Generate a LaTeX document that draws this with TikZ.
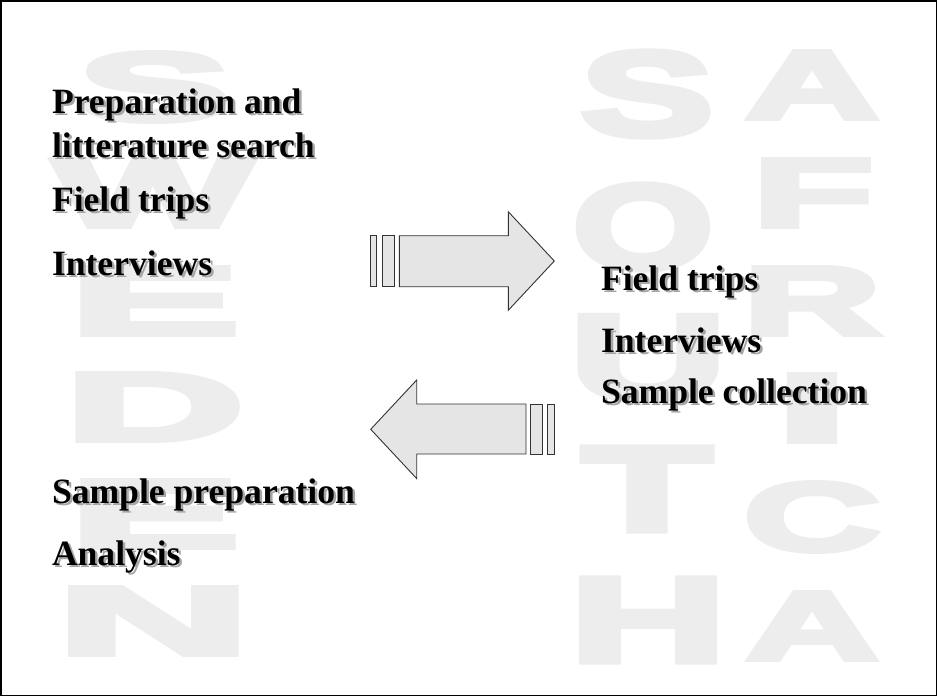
\documentclass[tikz,border=0pt]{standalone}
\usepackage{fontspec}
\setmainfont{Liberation Serif}
\newfontfamily\bigfont{Liberation Sans}[UprightFont=* Bold, FakeBold=5]
\begin{document}
\begin{tikzpicture}[x=1pt,y=-1pt]
\tikzset{
 bigl/.style={inner sep=0pt, outer sep=0pt, text=black!7, anchor=center},
 lbl/.style={inner sep=0pt, outer sep=0pt, anchor=base west, font=\bfseries\fontsize{35.6}{40}\selectfont},
 shadowlbl/.style={lbl, text=black!35},
 arrowshape/.style={fill=black!10, draw=black!80, line width=0.9pt, line join=miter},
}
\newcommand\bigletter[6]{\node[bigl] (#1) at (#2,#3) {\resizebox{#4pt}{#5pt}{\bigfont #6}};}
\newcommand\shlabel[4]{\node[shadowlbl] (#1s) at (#2+2.5,#3+2.5) {#4}; \node[lbl] (#1) at (#2,#3) {#4};}
\useasboundingbox (0,0) rectangle (937,696);
\fill[white] (0,0) rectangle (937,696);
% SWEDEN
\bigletter{sw1}{154}{87}{152}{68}{S}
\bigletter{sw2}{153}{193}{199}{67}{W}
\bigletter{sw3}{154.5}{301}{169}{67}{E}
\bigletter{sw4}{154.5}{407}{179}{67}{D}
\bigletter{sw5}{154.5}{514}{169}{67}{E}
\bigletter{sw6}{153.5}{621}{193}{67}{N}
% SOUTH
\bigletter{so1}{647}{94}{132}{84}{S}
\bigletter{so2}{643}{227}{140}{84}{O}
\bigletter{so3}{648}{358}{156}{83}{U}
\bigletter{so4}{647}{489}{129}{83}{T}
\bigletter{so5}{648}{620}{156}{83}{H}
% AFRICA
\bigletter{af1}{812}{85}{133}{67}{A}
\bigletter{af2}{813}{193}{120}{67}{F}
\bigletter{af3}{812}{301}{137}{67}{R}
\bigletter{af4}{812}{408}{72}{67}{I}
\bigletter{af5}{812}{517}{136}{68}{C}
\bigletter{af6}{812}{626}{132}{67}{A}
% right arrow
\draw[arrowshape] (370.7,235.7) rectangle (376.7,286.7);
\draw[arrowshape] (382.3,235.7) rectangle (394.3,286.7);
\draw[arrowshape] (399.3,235.7) -- (508.3,235.7) -- (508.3,211.7) -- (554.3,261) -- (508.3,310.3) -- (508.3,286.7) -- (399.3,286.7) -- cycle;
% left arrow
\draw[arrowshape] (547.7,404) rectangle (554.3,454);
\draw[arrowshape] (530.7,404) rectangle (542.3,454);
\draw[arrowshape] (526,404) -- (416.7,404) -- (416.7,380) -- (370.7,429.3) -- (416.7,478.6) -- (416.7,454) -- (526,454) -- cycle;
% labels
\shlabel{t1}{52}{113}{Preparation and}
\shlabel{t2}{52}{157}{litterature search}
\shlabel{t3}{52}{211}{Field trips}
\shlabel{t4}{52}{275}{Interviews}
\shlabel{t5}{52}{503}{Sample preparation}
\shlabel{t6}{52}{565}{Analysis}
\shlabel{r1}{601}{290}{Field trips}
\shlabel{r2}{601}{352}{Interviews}
\shlabel{r3}{601}{403}{Sample collection}
\draw[black, line width=1.5pt] (0.75,0.75) rectangle (936.25,695.25);
\end{tikzpicture}
\end{document}
